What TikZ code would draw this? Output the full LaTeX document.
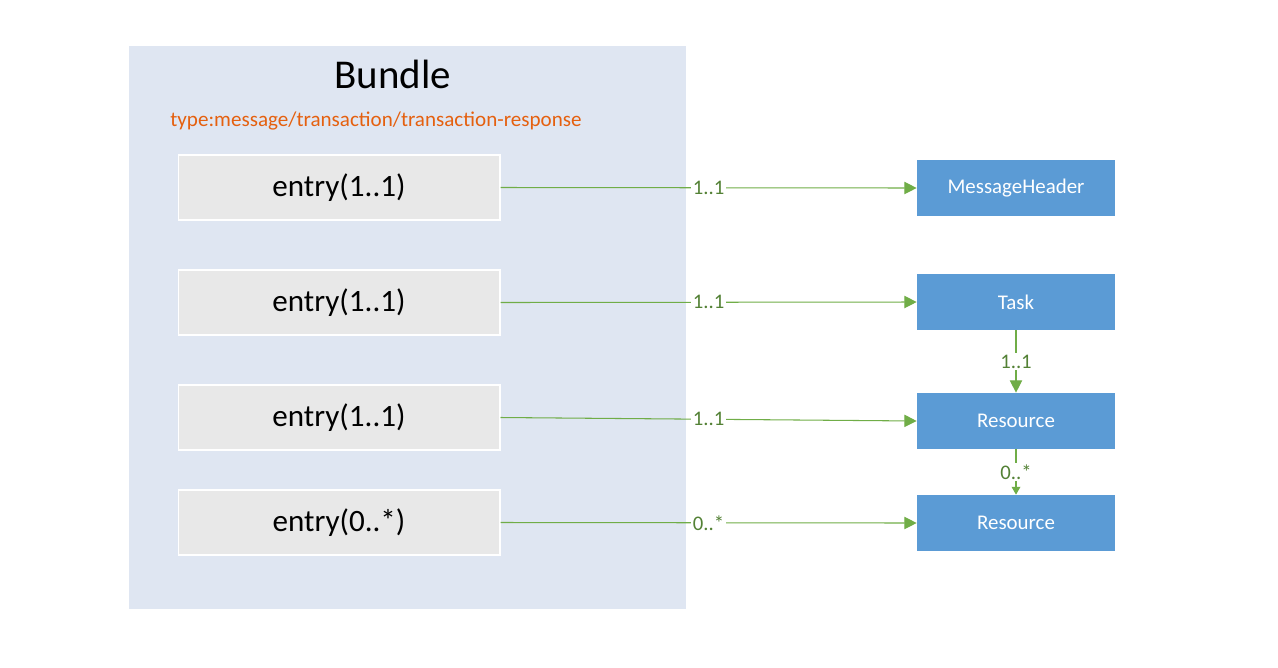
\documentclass[tikz,border=0pt]{standalone}
\usepackage{fontspec}
\setmainfont{Carlito}
\usetikzlibrary{arrows.meta}

\definecolor{bundlebg}{HTML}{DFE6F2}
\definecolor{entrybg}{HTML}{E8E8E8}
\definecolor{resbg}{HTML}{5B9BD5}
\definecolor{linkgreen}{HTML}{70AD47}
\definecolor{labelgreen}{HTML}{538135}
\definecolor{typeorange}{HTML}{E5600F}

\begin{document}
\begin{tikzpicture}[x=0.02cm, y=-0.02cm,
  entry/.style={draw=white, line width=0.6pt, fill=entrybg, minimum width=6.44cm, minimum height=1.3cm, font=\fontsize{17.7}{20}\selectfont},
  res/.style={fill=resbg, text=white, minimum width=3.96cm, minimum height=1.12cm, font=\fontsize{11.9}{14}\selectfont},
  link/.style={draw=linkgreen, line width=0.6pt, -{Triangle[length=7pt, width=7pt]}},
  card/.style={text=labelgreen, fill=white, inner sep=1pt, font=\fontsize{11.8}{13}\selectfont}]

\useasboundingbox (0,0) rectangle (1278,667);

% Bundle container
\fill[bundlebg] (129,46) rectangle (686,609);
\node[font=\fontsize{23.3}{28}\selectfont] (title) at (393,74) {Bundle};
\node[typeorange, anchor=west, inner sep=0pt, font=\fontsize{12}{14}\selectfont] (type) at (170,120.5) {type:message/transaction/transaction-response};

% Entries
\node[entry] (e1) at (339,187.5) {entry(1..1)};
\node[entry] (e2) at (339,302.5) {entry(1..1)};
\node[entry] (e3) at (339,417.5) {entry(1..1)};
\node[entry] (e4) at (339,522.5) {entry(0..*)};

% Resources
\node[res] (header) at (1016,188) {MessageHeader};
\node[res] (task) at (1016,302) {Task};
\node[res] (res1) at (1016,421) {Resource};
\node[res] (res2) at (1016,523) {Resource};

% Links from entries
\draw[link] (e1.east) -- node[card] {1..1} (header.west);
\draw[link] (e2.east) -- node[card] {1..1} (task.west);
\draw[link] (e3.east) -- node[card] {1..1} (res1.west);
\draw[link] (e4.east) -- node[card] {0..*} (res2.west);

% Links between resources
\draw[link] (task.south) -- node[card] {1..1} (res1.north);
\draw[link, -{Triangle[length=4.5pt, width=5pt]}] (res1.south) -- node[card] {0..*} (res2.north);

\end{tikzpicture}
\end{document}
